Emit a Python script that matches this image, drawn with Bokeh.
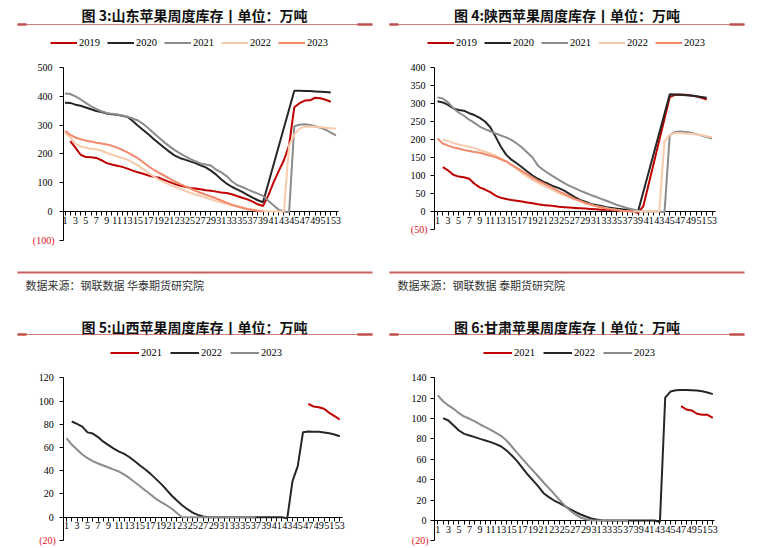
from bokeh.plotting import figure
from bokeh.models import (Range1d, LinearAxis, FixedTicker, Label, Legend,
                          LegendItem, BoxAnnotation)
from bokeh.layouts import column, row
from bokeh.embed import file_html
from bokeh.resources import INLINE

N = None
weeks = list(range(1, 54))
week_labels = [str(w) if w % 2 else "" for w in weeks]

# ---------------- 山东 (图3) ----------------
sd_years = ["2019", "2020", "2021", "2022", "2023"]
sd_2019 = [N, 244, 222, 197, 189, 188, 186, 178, 168, 163,
           159, 155, 149, 142, 136, 131, 125, 121, 117, 110,
           103, 96, 90, 86, 82, 80, 77, 74, 72, 69,
           66, 64, 60, 54, 48, 42, 34, 25, 19, 55,
           100, 140, 178, 230, 362, 376, 385, 386, 395, 393,
           388, 381, N]
sd_2020 = [378, 377, 371, 367, 361, 355, 349, 345, 340, 338,
           336, 332, 328, 314, 298, 283, 268, 252, 237, 222,
           208, 195, 186, 180, 174, 168, 160, 153, 142, 128,
           111, 97, 86, 77, 68, 58, 48, 39, 32, N,
           N, N, N, N, 419, 419, 418, 418, 417, 416,
           415, 413, N]
sd_2021 = [410, 408, 400, 389, 377, 365, 356, 348, 342, 339,
           337, 333, 329, 323, 316, 304, 289, 273, 257, 241,
           227, 214, 203, 192, 183, 175, 167, 163, 160, 145,
           136, 123, 105, 92, 85, 77, 69, 62, 54, 37,
           22, 6, 0, -3, 296, 301, 303, 300, 296, 291,
           284, 274, 264]
sd_2022 = [272, 258, 235, 226, 221, 218, 216, 211, 204, 197,
           191, 186, 180, 170, 160, 147, 134, 122, 111, 102,
           94, 86, 79, 72, 65, 59, 54, 48, 42, 36,
           31, 26, 22, 18, 14, 10, 7, 4, 2, 0,
           0, 0, 0, 230, 268, 288, 294, 295, 294, 293,
           291, 289, 288]
sd_2023 = [280, 266, 257, 251, 246, 243, 239, 236, 233, 228,
           222, 214, 205, 195, 185, 171, 157, 145, 135, 125,
           115, 105, 96, 88, 80, 72, 65, 58, 52, 45,
           38, 31, 24, 18, 13, 8, 5, 2, 1, N,
           N, N, N, N, N, N, N, N, N, N,
           N, N, N]
sd_yticks = [-100, 0, 100, 200, 300, 400, 500]

# ---------------- 陕西 (图4) ----------------
sx_years = ["2019", "2020", "2021", "2022", "2023"]
sx_2019 = [N, 123, 114, 102, 97, 95, 91, 77, 67, 61,
           54, 44, 38, 35, 32, 30, 28, 25, 23, 20,
           18, 17, 15, 13, 12, 11, 10, 9, 8, 7,
           6, 5, 5, 4, 3, 3, 2, 1, -4, 15,
           N, N, N, N, 318, 324, 325, 324, 322, 320,
           316, 311, N]
sx_2020 = [306, 303, 296, 286, 282, 280, 273, 268, 260, 250,
           234, 208, 180, 158, 144, 134, 123, 111, 100, 91,
           83, 77, 70, 65, 58, 49, 40, 32, 27, 21,
           18, 15, 12, 10, 8, 6, 5, 3, 1, N,
           N, N, N, N, 326, 325, 324, 323, 322, 320,
           318, 316, N]
sx_2021 = [317, 314, 303, 287, 275, 266, 255, 246, 236, 229,
           223, 217, 211, 206, 199, 189, 178, 164, 150, 128,
           116, 106, 97, 88, 79, 71, 65, 58, 52, 46,
           41, 35, 30, 24, 18, 14, 9, 6, 2, 0,
           0, 0, 0, -2, 212, 221, 222, 221, 219, 215,
           211, 207, 203]
sx_2022 = [N, 200, 196, 190, 186, 183, 180, 176, 171, 166,
           161, 155, 147, 139, 129, 118, 107, 97, 88, 80,
           72, 65, 58, 51, 45, 39, 33, 28, 23, 19,
           15, 12, 9, 6, 4, 2, 1, 0, 0, 0,
           0, 0, 0, 195, 213, 218, 218, 217, 216, 214,
           212, 209, 206]
sx_2023 = [203, 189, 183, 178, 175, 171, 168, 165, 163, 159,
           155, 151, 145, 139, 130, 121, 112, 103, 94, 86,
           79, 71, 64, 56, 49, 42, 35, 30, 24, 19,
           15, 11, 8, 6, 4, 2, 1, 0, N, N,
           N, N, N, N, N, N, N, N, N, N,
           N, N, N]
sx_yticks = [-50, 0, 50, 100, 150, 200, 250, 300, 350, 400]

# ---------------- 山西 (图5) ----------------
shanxi_years = ["2021", "2022", "2023"]
shanxi_2021 = [N, N, N, N, N, N, N, N, N, N,
               N, N, N, N, N, N, N, N, N, N,
               N, N, N, N, N, N, N, N, N, N,
               N, N, N, N, N, N, N, N, N, N,
               N, N, N, N, N, N, 97.6, 95.3, 94.7, 93.3,
               89.8, 87.0, 84.1]
shanxi_2022 = [N, 82.4, 80.3, 78.0, 73.0, 72.0, 69.0, 65.0, 62.0, 59.0,
               56.5, 54.5, 51.6, 48.2, 44.5, 41.0, 37.3, 33.0, 28.7, 23.8,
               18.7, 14.3, 10.3, 6.9, 4.0, 2.0, 0.6, 0, 0, 0,
               0, 0, 0, 0, 0, 0, 0, 0, 0, 0,
               0, 0, -1, 31, 44, 73.2, 73.7, 73.6, 73.5, 72.9,
               72.3, 71.2, 69.7]
shanxi_2023 = [68.0, 62.5, 58.2, 54.0, 50.8, 48.2, 46.2, 44.5, 42.8, 41.0,
               39.3, 36.7, 33.6, 30.1, 26.7, 23.0, 19.5, 15.8, 12.9, 10.3,
               7.5, 3.7, 0, 0, 0, 0, 0, 0, 0, 0,
               0, 0, 0, 0, 0, 0, 0, N, N, N,
               N, N, N, N, N, N, N, N, N, N,
               N, N, N]
shanxi_yticks = [-20, 0, 20, 40, 60, 80, 100, 120]

# ---------------- 甘肃 (图6) ----------------
gansu_years = ["2021", "2022", "2023"]
gansu_2021 = [N, N, N, N, N, N, N, N, N, N,
              N, N, N, N, N, N, N, N, N, N,
              N, N, N, N, N, N, N, N, N, N,
              N, N, N, N, N, N, N, N, N, N,
              N, N, N, N, N, N, 112.2, 108.9, 108.0, 104.7,
              103.7, 103.7, 100.8]
gansu_2022 = [N, 100.4, 98.1, 93.2, 88.3, 85.0, 83.4, 81.8, 80.1, 78.5,
              76.9, 74.9, 72.6, 68.7, 63.8, 58.2, 51.7, 45.1, 39.3, 33.4,
              26.8, 22.9, 19.6, 17.0, 14.1, 11.1, 8.5, 5.9, 3.9, 2.0,
              1.0, 0.3, 0, 0, 0, 0, 0, 0, 0, 0,
              0, 0, -1.5, 120.5, 126.5, 127.8, 128.0, 128.0, 127.8, 127.5,
              126.8, 125.5, 124.0]
gansu_2023 = [122.7, 117.0, 112.9, 109.6, 105.3, 102.0, 99.8, 97.2, 94.2, 91.6,
              89.0, 86.0, 82.8, 78.5, 72.6, 66.4, 60.5, 54.6, 49.0, 43.2,
              37.3, 31.7, 26.2, 20.3, 14.7, 9.8, 5.9, 2.9, 1.3, 0.3,
              0, 0, 0, 0, 0, 0, 0, N, N, N,
              N, N, N, N, N, N, N, N, N, N,
              N, N, N]
gansu_yticks = [-20, 0, 20, 40, 60, 80, 100, 120, 140]

titles = ["图 3:山东苹果周度库存丨单位：万吨", "图 4:陕西苹果周度库存丨单位：万吨",
          "图 5:山西苹果周度库存丨单位：万吨", "图 6:甘肃苹果周度库存丨单位：万吨"]
sources = ["数据来源：钢联数据 华泰期货研究院", "数据来源：钢联数据 泰期货研究院"]

# styles
COL5 = ["#C00000", "#262626", "#8C8C8C", "#F8CBAD", "#F4896B"]
COL3 = ["#C00000", "#262626", "#8C8C8C"]
RULE = "#C0504D"
CJK = "Noto Sans CJK SC"
SERIF = "Liberation Serif"


def make_panel(x0, y0, W, H, xaxis_px, ymap, yticks, series, years, colors,
               title, title_c, rule_y, rule_x, leg, source=None, std=6):
    # xaxis_px: (axis start, week1 px, week53 px, axis end) in page px
    # ymap: (page px of value 0, page px of top tick)
    ax0, X1, X53, ax1 = xaxis_px
    k = (X53 - X1) / 52.0
    xd = lambda X: 1 + (X - X1) / k
    Y0, Ytop = ymap
    s = (Y0 - Ytop) / yticks[-1]
    yd = lambda Y: (Y0 - Y) / s

    p = figure(width=W, height=H,
               x_range=Range1d(xd(x0), xd(x0 + W)),
               y_range=Range1d(yd(y0 + H), yd(y0)),
               output_backend="svg", toolbar_location=None,
               x_axis_location=None, y_axis_location=None, title=None,
               min_border=0)
    p.outline_line_color = None
    p.grid.visible = False
    p.background_fill_color = "white"
    p.border_fill_color = "white"

    sx = lambda X: X - x0
    sy = lambda Y: (y0 + H) - Y

    yax = LinearAxis(ticker=FixedTicker(ticks=yticks), fixed_location=xd(ax0),
                     bounds=(yticks[0], yticks[-1]),
                     major_label_overrides={yticks[0]: ""})
    xax = LinearAxis(ticker=FixedTicker(ticks=weeks), fixed_location=0,
                     bounds=(xd(ax0), xd(ax1)),
                     major_label_overrides={w: l for w, l in zip(weeks, week_labels)})
    for ax in (yax, xax):
        ax.level = "underlay"
        ax.axis_line_color = "black"
        ax.axis_line_width = 1
        ax.major_tick_line_color = "black"
        ax.major_tick_in = 0
        ax.major_tick_out = 4
        ax.minor_tick_line_color = None
        ax.major_label_text_font = SERIF
        ax.major_label_text_font_size = "10px"
        ax.major_label_text_color = "black"
    yax.major_label_standoff = std
    xax.major_label_standoff = 1
    p.add_layout(yax, "left")
    p.add_layout(xax, "below")

    p.add_layout(Label(x=sx(ax0) - (std + 2), y=yticks[0], x_units="screen",
                       y_units="data", text="(%d)" % (-yticks[0]),
                       text_align="right", text_baseline="middle",
                       text_color="#E8101C", text_font=SERIF,
                       text_font_size="10px"))

    items = []
    for vals, yr_, c in zip(series, years, colors):
        xs = [w for w, v in zip(weeks, vals) if v is not None]
        ys = [v for v in vals if v is not None]
        r = p.line(xs, ys, line_color=c, line_width=2)
        items.append(LegendItem(label=yr_, renderers=[r]))

    lx, lcy, gw, sp = leg
    legend = Legend(items=items, orientation="horizontal",
                    location=(sx(lx), sy(lcy + 6.5)),
                    glyph_width=gw, glyph_height=13, label_height=13,
                    label_width=10, label_standoff=2, spacing=sp,
                    padding=0, margin=0, border_line_color=None,
                    background_fill_alpha=0, label_text_font=SERIF,
                    label_text_font_size="10.5px", label_text_color="black")
    p.add_layout(legend)

    p.add_layout(Label(x=sx(title_c[0]), y=sy(title_c[1]), x_units="screen",
                       y_units="screen", text=title, text_align="center",
                       text_baseline="middle", text_font=CJK,
                       text_font_style="bold", text_font_size="14px",
                       text_color="#111111"))

    def hbar(a, b, yc, th, alpha):
        p.add_layout(BoxAnnotation(left=sx(a), right=sx(b),
                                   top=sy(yc - th / 2), bottom=sy(yc + th / 2),
                                   left_units="screen", right_units="screen",
                                   top_units="screen", bottom_units="screen",
                                   fill_color=RULE, fill_alpha=alpha,
                                   line_color=None))

    a, b = rule_x
    hbar(a, b, rule_y, 1, 0.75)
    hbar(a, a + 9, rule_y, 2.4, 1)
    hbar(b - 15, b, rule_y, 2.4, 1)
    if source is not None:
        stext, sline_y, stext_xy = source
        hbar(a, b, sline_y, 2, 0.9)
        p.add_layout(Label(x=sx(stext_xy[0]), y=sy(stext_xy[1]), x_units="screen",
                           y_units="screen", text=stext, text_align="left",
                           text_baseline="middle", text_font=CJK,
                           text_font_size="11px", text_color="#333333"))
    return p


p1 = make_panel(0, 0, 384, 300, (63, 64.5, 335.5, 338), (211, 67), sd_yticks,
                [sd_2019, sd_2020, sd_2021, sd_2022, sd_2023], sd_years, COL5,
                titles[0], (194, 14.5), 24, (17, 372), (50, 42, 27, 7),
                (sources[0], 272, (25, 284)), std=7)
p2 = make_panel(384, 0, 384, 300, (434, 437, 711.5, 715), (211, 67), sx_yticks,
                [sx_2019, sx_2020, sx_2021, sx_2022, sx_2023], sx_years, COL5,
                titles[1], (566.5, 14.5), 24, (389, 744), (427, 42, 27, 7),
                (sources[1], 272, (397, 284)), std=5)
p3 = make_panel(0, 300, 384, 248, (63.3, 66, 339.3, 341.7), (516.7, 377.3),
                shanxi_yticks, [shanxi_2021, shanxi_2022, shanxi_2023],
                shanxi_years, COL3, titles[2], (194, 326), 334, (17, 372),
                (110, 352.7, 29, 8), None, std=6)
p4 = make_panel(384, 300, 384, 248, (434, 437.3, 712.3, 714), (520, 377.3),
                gansu_yticks, [gansu_2021, gansu_2022, gansu_2023],
                gansu_years, COL3, titles[3], (566.5, 326), 334, (389, 744),
                (483, 352.3, 29, 8), None, std=4)

layout = column(row(p1, p2), row(p3, p4))
open("out.html", "w").write(file_html(layout, INLINE))
